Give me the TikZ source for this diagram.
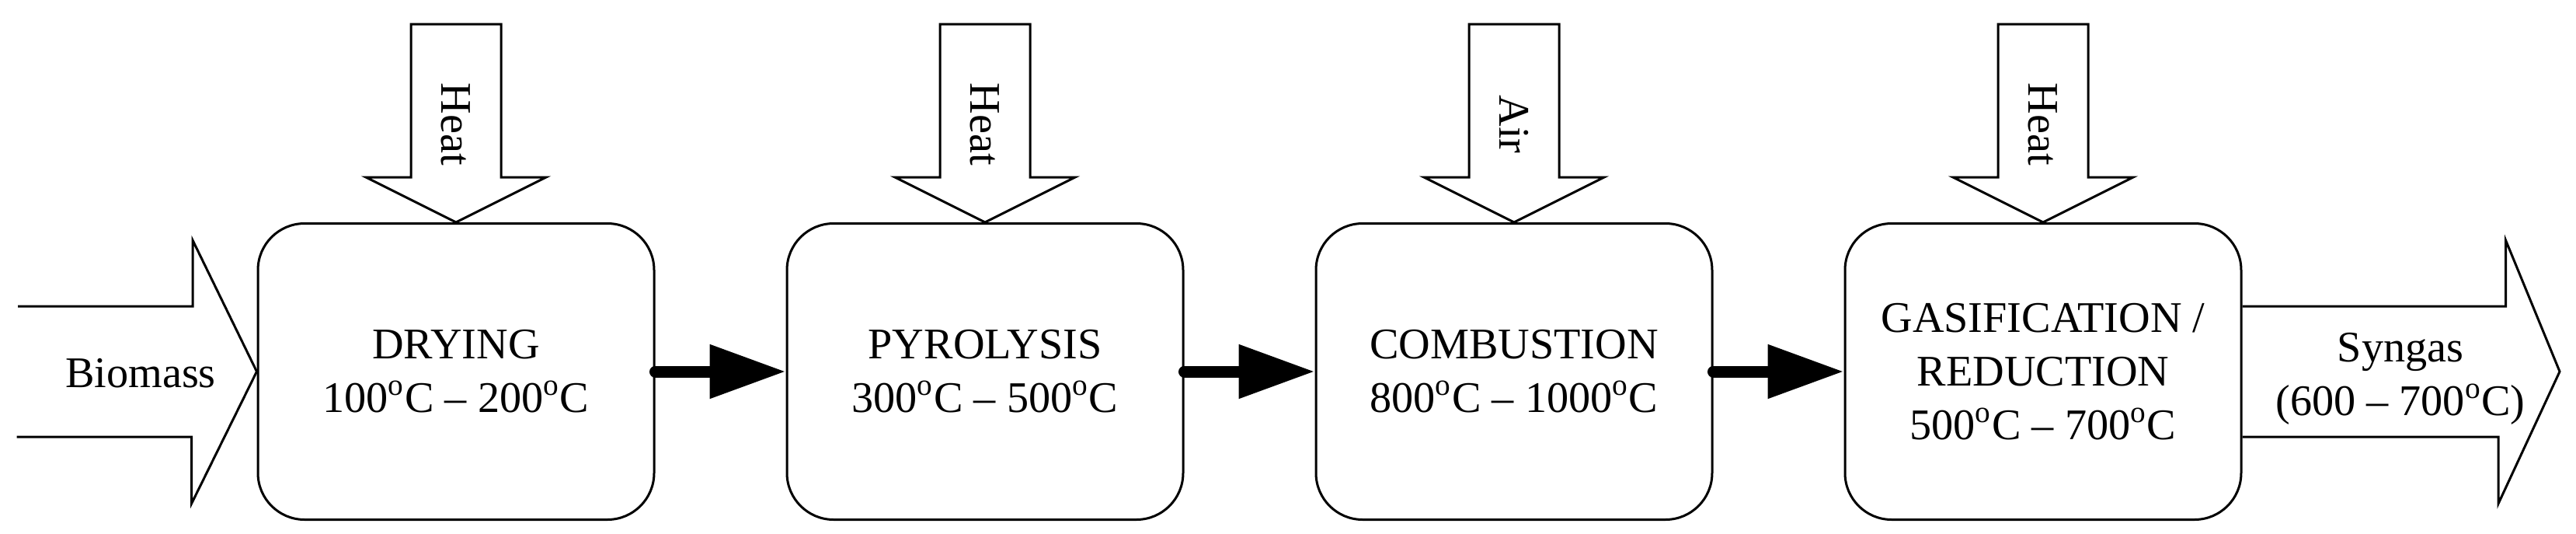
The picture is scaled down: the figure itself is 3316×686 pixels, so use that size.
\documentclass[tikz,border=0pt]{standalone}
\usepackage{fontspec}
\setmainfont{Liberation Serif}
\usetikzlibrary{positioning,arrows.meta}

\tikzset{
  stage/.style={draw, line width=0.3mm, rounded corners=6mm, minimum width=51mm,
    minimum height=38.1mm, align=center, font=\fontsize{16}{19.6}\selectfont},
  fat/.style={draw, line width=0.3mm},
  flow/.style={line width=1.5mm, line cap=round, -{Triangle[length=9.8mm,width=6.6mm]}},
  lbl/.style={font=\fontsize{16}{19.6}\selectfont, align=center}
}
\newcommand{\dg}{\textsuperscript{o}C}

\begin{document}
\begin{tikzpicture}[x=0.1mm,y=-0.1mm]
\useasboundingbox (0,0) rectangle (3316,686);

% Stages
\node[stage] (dry) at (587,478) {DRYING\\100\dg\ -- 200\dg};
\node[stage, right=16.8mm of dry] (pyr) {PYROLYSIS\\300\dg\ -- 500\dg};
\node[stage, right=16.8mm of pyr] (com) {COMBUSTION\\800\dg\ -- 1000\dg};
\node[stage, right=16.8mm of com] (gas) {GASIFICATION /\\REDUCTION\\500\dg\ -- 700\dg};

% Flow between stages
\draw[flow] (dry.east) -- (pyr.west);
\draw[flow] (pyr.east) -- (com.west);
\draw[flow] (com.east) -- (gas.west);

% Inputs from above
\foreach \s/\t in {dry/Heat, pyr/Heat, com/Air, gas/Heat} {
  \draw[fat] (\s.north) -- ++(-116,-58) -- ++(58,0) -- ++(0,-197)
    coordinate (\s-top) -- ++(116,0) -- ++(0,197) -- ++(58,0) -- cycle;
  \node[lbl, rotate=-90] (\s-in) at ([yshift=12.6mm]\s.north) {\t};
}

% Biomass in
\coordinate (bio) at (23,478);
\draw[fat] (bio) ++(0,-84) -- ++(225,0) -- ++(0,-85) -- (dry.west)
  -- ++(-84,170) -- ++(0,-86) -- ++(-225,0);
\node[lbl] (bio-txt) at (181,480) {Biomass};

% Syngas out
\coordinate (syn) at (3295,478);
\draw[fat] ([yshift=8.4mm]gas.east) -- ++(339,0) -- ++(0,-85) -- (syn)
  -- ++(-79,170) -- ++(0,-86) -- ([yshift=-8.4mm]gas.east);
\node[lbl] (syn-txt) at (3090,487) {Syngas\\(600 -- 700\dg)};

\end{tikzpicture}
\end{document}
